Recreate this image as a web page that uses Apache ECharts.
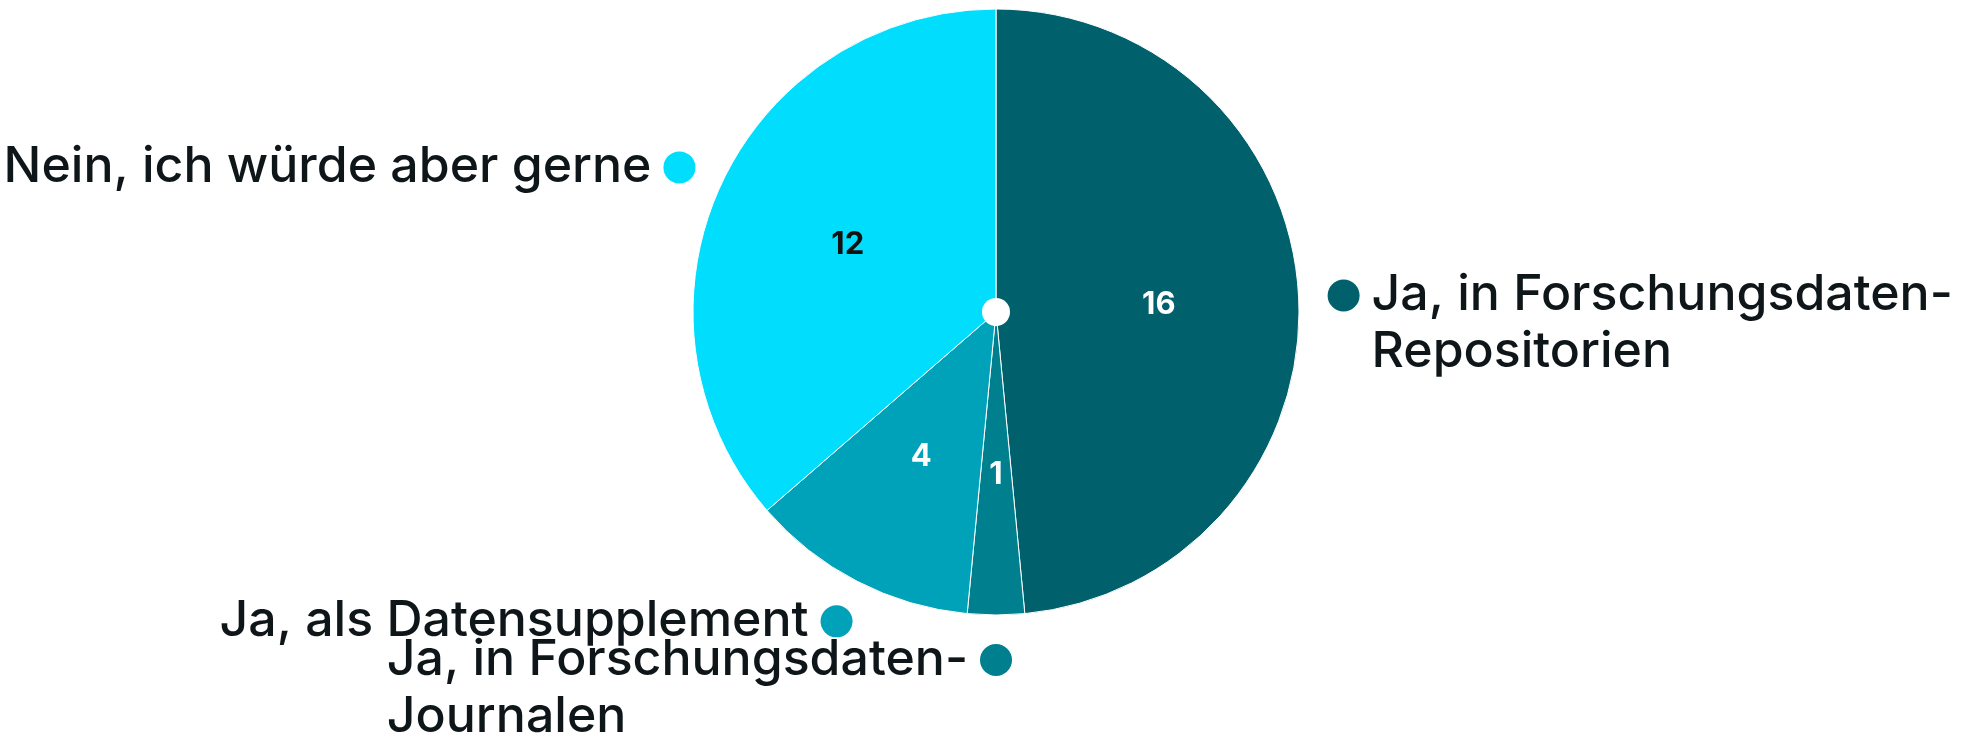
<!DOCTYPE html>
<html>
<head>
<meta charset="utf-8">
<script src="https://cdn.jsdelivr.net/npm/echarts@6/dist/echarts.min.js"></script>
<style>
  html, body { margin: 0; padding: 0; background: #ffffff; }
  #chart { width: 1965px; height: 739px; }
</style>
</head>
<body>
<div id="chart"></div>
<script>
// Answers and counts, clockwise from 12 o'clock
const categories = [
  'Ja, in Forschungsdaten-\nRepositorien',
  'Ja, in Forschungsdaten-\nJournalen',
  'Ja, als Datensupplement',
  'Nein, ich würde aber gerne'
];
const counts = [16, 1, 4, 12];

// Palette
const sliceColors = ['#00616D', '#007F8E', '#00A2B9', '#00DDFD'];
const valueLabelColors = ['#ffffff', '#ffffff', '#ffffff', '#111111'];

const FONT = 'Inter, "Open Sans", sans-serif';
const TEXT_SIZE = 50;
const LINE_H = 57;
const DOT = 32;
const GAP = 12;

// Which side of the pie each outer label sits on (by mid-angle of its slice)
const total = counts.reduce((a, b) => a + b, 0);
let acc = 0;
const sides = counts.map(v => {
  const mid = (acc + v / 2) / total;
  acc += v;
  return mid < 0.5 ? 'right' : 'left';
});

const rich = {
  t: { fontFamily: FONT, fontSize: TEXT_SIZE, lineHeight: LINE_H, color: '#0f1619', fontWeight: 500, align: 'left' },
  g: { width: GAP, align: 'left' },
  sp: { width: DOT + GAP, align: 'left' }
};
sliceColors.forEach((c, i) => {
  rich['d' + i] = { width: DOT, height: DOT, borderRadius: DOT / 2, backgroundColor: c, align: 'left' };
});

const pieData = categories.map((name, i) => ({
  name: name,
  value: counts[i],
  itemStyle: { color: sliceColors[i] }
}));

const valueData = categories.map((name, i) => ({
  name: name,
  value: counts[i],
  label: { color: valueLabelColors[i] }
}));

const CENTER = [996, 312];

const chart = echarts.init(document.getElementById('chart'), null, { renderer: 'canvas' });
chart.setOption({
  backgroundColor: '#ffffff',
  animation: false,
  series: [
    {
      type: 'pie',
      center: CENTER,
      radius: 303,
      startAngle: 90,
      clockwise: true,
      avoidLabelOverlap: false,
      silent: true,
      itemStyle: { borderColor: '#ffffff', borderWidth: 1 },
      data: pieData,
      label: {
        show: true,
        position: 'outside',
        formatter: p => {
          const i = p.dataIndex;
          const lines = p.name.split('\n');
          if (sides[i] === 'right') {
            return lines.map((l, k) => (k === 0 ? '{d' + i + '|}{g|}' : '{sp|}') + '{t|' + l + '}').join('\n');
          }
          return lines.map((l, k) => '{t|' + l + '}' + (k === 0 ? '{g|}{d' + i + '|}' : '')).join('\n');
        },
        rich: rich
      },
      labelLine: {
        show: true,
        length: 45,
        length2: 0,
        lineStyle: { color: 'rgba(0,0,0,0)', width: 0 }
      },
      // Center each dot on the end of the (invisible) first leg of the label line
      labelLayout: p => {
        const pts = p.labelLinePoints;
        if (!pts) return {};
        const e = pts[1];
        const right = sides[p.dataIndex] === 'right';
        return {
          x: right ? e[0] - DOT / 2 : e[0] + DOT / 2,
          y: e[1] - LINE_H / 2,
          align: right ? 'left' : 'right',
          verticalAlign: 'top'
        };
      }
    },
    {
      // Value labels inside the slices
      type: 'pie',
      center: CENTER,
      radius: 320,
      startAngle: 90,
      clockwise: true,
      silent: true,
      z: 3,
      itemStyle: { color: 'rgba(0,0,0,0)' },
      data: valueData,
      label: {
        show: true,
        position: 'inside',
        formatter: '{c}',
        fontFamily: FONT,
        fontSize: 31,
        fontWeight: 'bold'
      },
      labelLine: { show: false }
    },
    {
      // White hub
      type: 'pie',
      center: CENTER,
      radius: 14,
      silent: true,
      z: 4,
      label: { show: false },
      labelLine: { show: false },
      itemStyle: { color: '#ffffff' },
      data: [{ value: 1, name: '' }]
    }
  ]
});
</script>
</body>
</html>
